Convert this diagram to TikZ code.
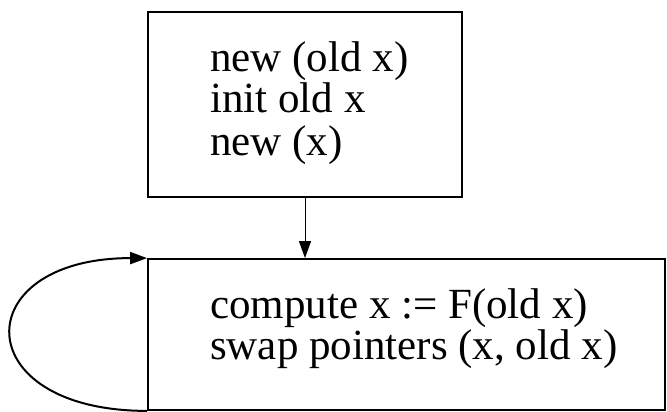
\documentclass[tikz,border=0pt]{standalone}
\usepackage{fontspec}
\setmainfont{Liberation Serif}
\usetikzlibrary{arrows.meta}
\begin{document}
\begin{tikzpicture}[x=1pt,y=-1pt,
  box/.style={draw,line width=1.8pt,rectangle,inner sep=0pt},
  txt/.style={anchor=base west,inner sep=0pt,font=\fontsize{43}{41}\selectfont},
  flow/.style={line width=1pt,-{Triangle[length=17pt,width=12pt]}},
  loopline/.style={line width=2pt,-{Triangle[length=17pt,width=12pt]}}]
\useasboundingbox (0,0) rectangle (667,412);
\node[box,minimum width=314pt,minimum height=185pt] (topbox) at (305,104.5) {};
\node[box,minimum width=517pt,minimum height=151pt] (botbox) at (406.5,334.5) {};
\node[txt] (t1) at (210,71) {new (old x)};
\node[txt] (t2) at (210,113) {init old x};
\node[txt] (t3) at (210,155) {new (x)};
\node[txt] (b1) at (210,318) {compute x := F(old x)};
\node[txt] (b2) at (210,359) {swap pointers (x, old x)};
\draw[flow] (topbox.south) -- (topbox.south |- botbox.north);
\draw[loopline] (botbox.south west) .. controls +(-181,0) and +(-181,0) .. (botbox.north west);
\end{tikzpicture}
\end{document}
